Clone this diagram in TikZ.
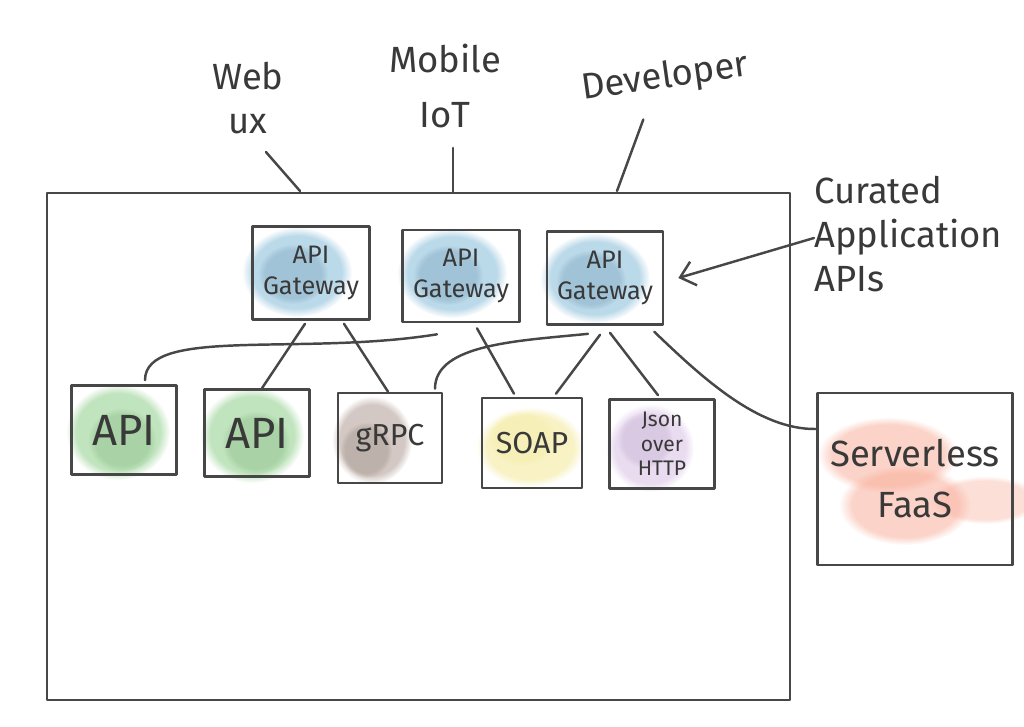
\documentclass[tikz,border=0pt]{standalone}
\usepackage{fontspec}
\setmainfont{Fira Sans}
\usetikzlibrary{arrows.meta, fadings}
\definecolor{ink}{HTML}{474747}
\definecolor{gwblue}{RGB}{130,185,215}
\definecolor{apigreen}{RGB}{140,205,135}
\definecolor{grpcbrown}{RGB}{175,155,145}
\definecolor{soapyellow}{RGB}{242,232,150}
\definecolor{jsonpurple}{RGB}{215,190,228}
\definecolor{faasred}{RGB}{248,175,155}
\tikzset{
  box/.style={draw=ink, line width=1.5pt, align=center, inner sep=0pt},
  wash/.style={fill=#1, fill opacity=.55, draw=none, path fading=circle with fuzzy edge 20 percent},
  link/.style={draw=ink, line width=1.4pt, line cap=round},
}
\begin{document}
\begin{tikzpicture}[x=.2mm, y=-.2mm, line join=round, line cap=round, font=\large, text=ink!80!black]
	\useasboundingbox (0,0) rectangle (1024,727);
	
	% watercolour washes
	\foreach \x/\y in {297/272, 452/273, 595/278}
	{\fill[wash=gwblue] (\x,\y) ellipse (55 and 45);
	 \fill[wash=gwblue!80!black, fill opacity=.3] (\x-4,\y+2) ellipse (35 and 30);}
	\foreach \x/\y in {118/432, 252/435}
	{\fill[wash=apigreen] (\x,\y) ellipse (52 and 48);
	 \fill[wash=apigreen!85!black, fill opacity=.3] (\x+4,\y+8) ellipse (34 and 32);}
	\fill[wash=grpcbrown] (372,440) ellipse (40 and 44);
	\fill[wash=grpcbrown!80!black, fill opacity=.3] (366,450) ellipse (26 and 28);
	\fill[wash=soapyellow] (530,447) ellipse (54 and 40);
	\fill[wash=soapyellow, fill opacity=.3] (522,438) ellipse (34 and 28);
	\fill[wash=jsonpurple] (650,448) ellipse (44 and 44);
	\fill[wash=jsonpurple!85!black, fill opacity=.3] (645,440) ellipse (28 and 28);
	\fill[wash=faasred] (888,455) ellipse (70 and 38);
	\fill[wash=faasred] (905,505) ellipse (66 and 40);
	\fill[wash=faasred, fill opacity=.4] (985,500) ellipse (55 and 24);
	
	% platform frame
	\node[box, minimum width=148.6mm, minimum height=101.4mm] (platform) at (418.5,446.5) {};
	
	% gateways
	\node[box, minimum width=23.4mm, minimum height=18.6mm, font=\Large] (gw1) at (311,273) {API\\Gateway};
	\node[box, minimum width=23.4mm, minimum height=18.4mm, font=\Large] (gw2) at (461,276) {API\\Gateway};
	\node[box, minimum width=23.2mm, minimum height=18.6mm, font=\Large] (gw3) at (605,278) {API\\Gateway};
	
	% back ends
	\node[box, minimum width=21mm, minimum height=17.8mm, font=\Huge] (api1) at (124,430) {API};
	\node[box, minimum width=21mm, minimum height=17.4mm, font=\Huge] (api2) at (257,433) {API};
	\node[box, minimum width=20.8mm, minimum height=18mm, font=\LARGE] (grpc) at (390,438) {gRPC};
	\node[box, minimum width=20mm, minimum height=18mm, font=\LARGE] (soap) at (532,443) {SOAP};
	\node[box, minimum width=21mm, minimum height=17.8mm, font=\large] (json) at (662,444) {Json\\over\\HTTP};
	\node[box, minimum width=39mm, minimum height=34.4mm, font=\huge] (faas) at (915,479) {Serverless\\[4pt]FaaS};
	
	% clients
	\node[font=\huge, align=center] (web) at (248,98) {Web\\ux};
	\node[font=\huge, align=center] (mobile) at (445,86) {Mobile\\[6pt]IoT};
	\node[font=\huge, rotate=8] (dev) at (665,78) {Developer};
	\node[font=\huge, align=left, anchor=west] (curated) at (808,234) {Curated\\Application\\APIs};
	
	\coordinate (webport) at (300,191);
	\coordinate (mobileport) at (453,193);
	\coordinate (devport) at (617,191);
	\draw[link] ([shift={(18,12)}]web.south) -- (webport);
	\draw[link] ([shift={(8,14)}]mobile.south) -- (mobileport);
	\draw[link] ([shift={(-25,18)}]dev.south) -- (devport);
	
	% connectors
	\draw[link] ([shift={(-6,3)}]gw1.south) -- ([shift={(5,0)}]api2.north);
	\draw[link] ([shift={(33,3)}]gw1.south) -- ([shift={(-2,0)}]grpc.north);
	\draw[link] ([shift={(-24,11)}]gw2.south) .. controls +(-137,22) and +(0,-54) .. ([shift={(21,-4)}]api1.north);
	\draw[link] ([shift={(16,5)}]gw2.south) -- ([shift={(-18,-3)}]soap.north);
	\draw[link] ([shift={(-17,8)}]gw3.south) .. controls +(-68,7) and +(0,-45) .. ([shift={(45,-3)}]grpc.north);
	\draw[link] ([shift={(-5,9)}]gw3.south) -- ([shift={(24,-3)}]soap.north);
	\draw[link] ([shift={(5,7)}]gw3.south) -- ([shift={(-4,-3)}]json.north);
	\draw[link] ([shift={(-10,6)}]gw3.south east) .. controls +(47,45) and +(-58,1) .. ([shift={(0,-50)}]faas.west);
	\draw[link, -{Straight Barb[length=8pt, width=14pt]}] ([shift={(6,4)}]curated.west) -- ([shift={(14,0)}]gw3.east);
\end{tikzpicture}
\end{document}
